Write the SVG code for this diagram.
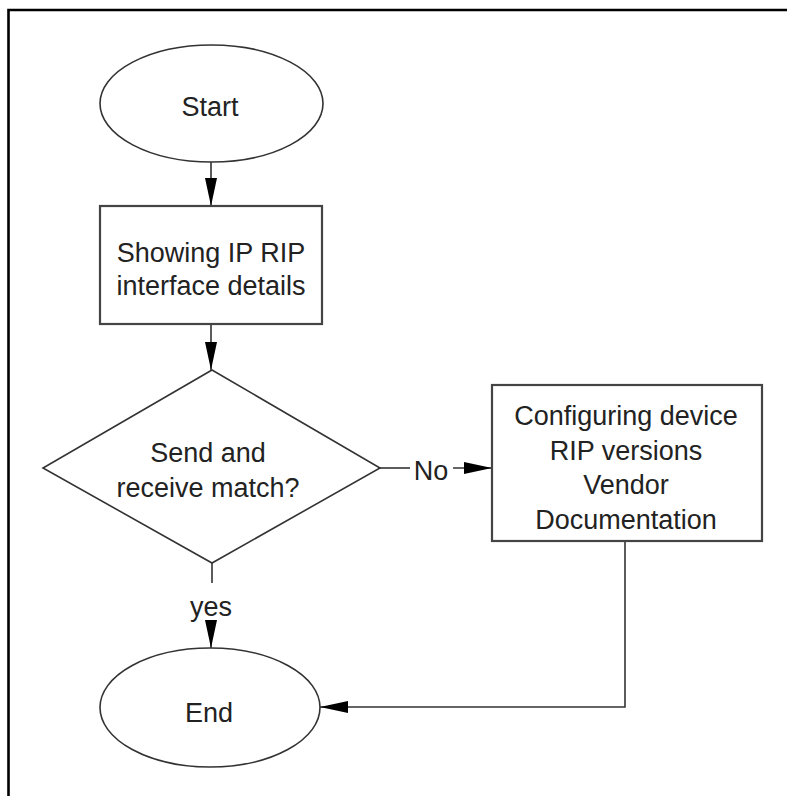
<svg xmlns="http://www.w3.org/2000/svg" width="787" height="796" viewBox="0 0 787 796">
<style>
.shape{fill:#fff;stroke:#333;stroke-width:1.6}
.box{fill:#fff;stroke:#444;stroke-width:2.2}
.lbl{font-family:"Liberation Sans",Arial,sans-serif;font-size:27px;fill:#222;text-anchor:middle}
.conn{fill:none;stroke:#333;stroke-width:1.6}
</style>
<defs>
<marker id="ah" markerWidth="28" markerHeight="12" refX="28" refY="6" orient="auto" markerUnits="userSpaceOnUse">
<path d="M0,0 L28,6 L0,12 Z" fill="#000"/>
</marker>
</defs>
<rect width="787" height="796" fill="#fff"/>
<path d="M8.5,796 V10 H787" fill="none" stroke="#000" stroke-width="2.6"/>
<g id="connectors">
<line class="conn" x1="211" y1="162" x2="211" y2="206" marker-end="url(#ah)"/>
<line class="conn" x1="211" y1="324" x2="211" y2="370" marker-end="url(#ah)"/>
<line class="conn" x1="380" y1="468" x2="410" y2="468"/>
<line class="conn" x1="453" y1="468" x2="492" y2="468" marker-end="url(#ah)"/>
<text class="lbl" x="431" y="480">No</text>
<line class="conn" x1="212" y1="563" x2="212" y2="583"/>
<text class="lbl" x="211" y="616">yes</text>
<line class="conn" x1="211" y1="622" x2="211" y2="648" marker-end="url(#ah)"/>
<path class="conn" d="M625,541 V707 H320" marker-end="url(#ah)"/>
</g>
<g id="start">
<ellipse class="shape" cx="211.5" cy="103.5" rx="111.5" ry="58.5"/>
<text class="lbl" x="210" y="116">Start</text>
</g>
<g id="show">
<rect class="box" x="100" y="206" width="222" height="118"/>
<text class="lbl" x="211" y="262">Showing IP RIP</text>
<text class="lbl" x="211" y="295">interface details</text>
</g>
<g id="decision">
<polygon class="shape" points="212,370 380,468 212,563 43,468"/>
<text class="lbl" x="208" y="462">Send and</text>
<text class="lbl" x="208" y="497">receive match?</text>
</g>
<g id="config">
<rect class="box" x="492" y="385" width="270" height="156"/>
<text class="lbl" x="626" y="425">Configuring device</text>
<text class="lbl" x="626" y="460">RIP versions</text>
<text class="lbl" x="626" y="494">Vendor</text>
<text class="lbl" x="626" y="529">Documentation</text>
</g>
<g id="end">
<ellipse class="shape" cx="210" cy="707.5" rx="110" ry="59.5"/>
<text class="lbl" x="209" y="722">End</text>
</g>
</svg>
